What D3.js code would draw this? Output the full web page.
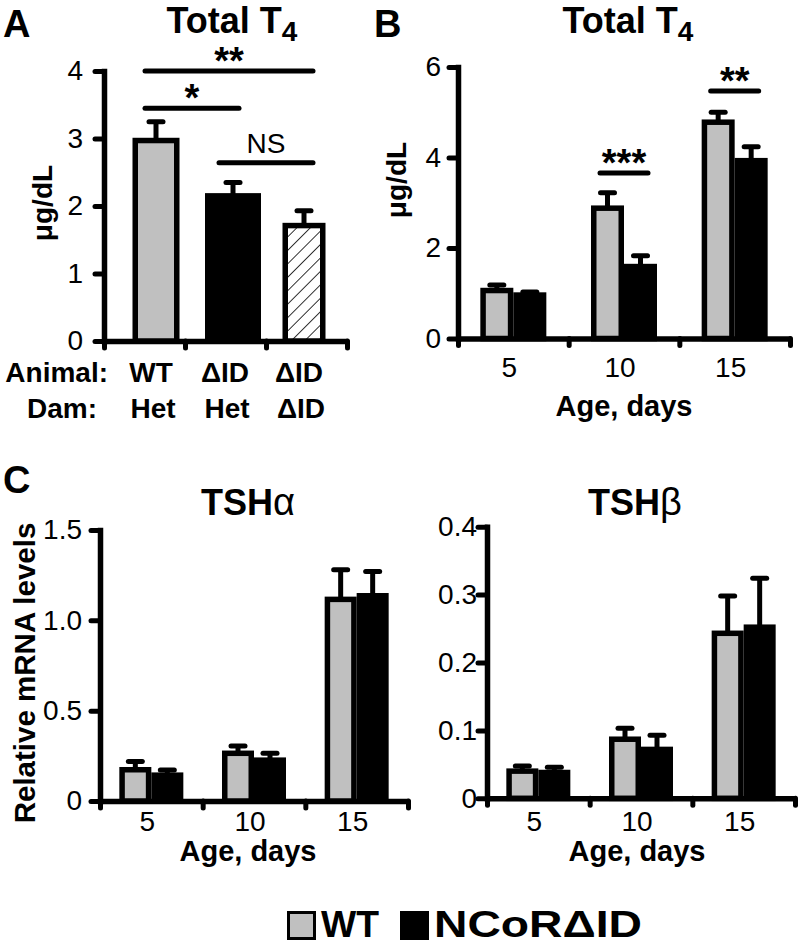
<!DOCTYPE html>
<html><head><meta charset="utf-8">
<script src="https://cdn.jsdelivr.net/npm/d3@7"></script>
<style>body{margin:0;background:#fff} text{font-family:"Liberation Sans",Arial,Helvetica,sans-serif;fill:#000}</style>
</head><body><svg id="c" width="800" height="944"></svg>
<script>
// ---------- data ----------
const groupsA = ["WT/Het", "ΔID/Het", "ΔID/ΔID"];
const animalLabels = ["WT", "ΔID", "ΔID"];
const damLabels = ["Het", "Het", "ΔID"];
const t4A = [2.97, 2.15, 1.71];
const t4AErr = [0.28, 0.20, 0.22];
const ticksA = [0, 1, 2, 3, 4];
const tickLabelsA = ["0", "1", "2", "3", "4"];

const ages = ["5", "10", "15"];
const t4B_WT = [1.06, 2.88, 4.78];
const t4B_WTerr = [0.12, 0.34, 0.22];
const t4B_KO = [0.96, 1.59, 3.93];
const t4B_KOerr = [0.07, 0.24, 0.31];
const ticksB = [0, 2, 4, 6];
const tickLabelsB = ["0", "2", "4", "6"];

const tshA_WT = [0.173, 0.264, 1.116];
const tshA_WTerr = [0.045, 0.040, 0.164];
const tshA_KO = [0.143, 0.226, 1.136];
const tshA_KOerr = [0.029, 0.038, 0.134];
const ticksCa = [0, 0.5, 1.0, 1.5];
const tickLabelsCa = ["0", "0.5", "1.0", "1.5"];

const tshB_WT = [0.040, 0.087, 0.243];
const tshB_WTerr = [0.0076, 0.016, 0.055];
const tshB_KO = [0.038, 0.072, 0.252];
const tshB_KOerr = [0.0077, 0.021, 0.072];
const ticksCb = [0, 0.1, 0.2, 0.3, 0.4];
const tickLabelsCb = ["0", "0.1", "0.2", "0.3", "0.4"];

const sigA = [
  {from: 0, to: 2, level: 4.0, label: "**"},
  {from: 0, to: 1, level: 3.45, label: "*"},
  {from: 1, to: 2, level: 2.64, label: "NS"}
];
const sigB = [
  {group: "10", level: 3.66, label: "***"},
  {group: "15", level: 5.47, label: "**"}
];
const legendItems = ["WT", "NCoRΔID"];

// ---------- helpers ----------
const svg = d3.select("#c");
const SW = 5.5, GRAY = "#c0c0c0", TICKFS = 28;

const defs = svg.append("defs");
const pat = defs.append("pattern").attr("id", "hatch").attr("patternUnits", "userSpaceOnUse")
  .attr("width", 9.5).attr("height", 9.5).attr("patternTransform", "rotate(45)");
pat.append("rect").attr("width", 9.5).attr("height", 9.5).attr("fill", "#fff");
pat.append("line").attr("x1", 0).attr("y1", 0).attr("x2", 0).attr("y2", 9.5)
  .attr("stroke", "#000").attr("stroke-width", 1.6);

function T(x, y, s, o = {}) {
  const t = svg.append("text").attr("x", x).attr("y", y).text(s)
    .attr("font-size", o.size || 26)
    .attr("font-weight", o.bold ? "bold" : "normal")
    .attr("text-anchor", o.anchor || "middle");
  if (o.rot) t.attr("transform", `rotate(-90,${x},${y})`);
  return t;
}

function yAxis(y, x0, ticks, labels, pad) {
  const ax = d3.axisLeft(y).tickValues(ticks).tickFormat((d, i) => labels[i])
    .tickSize(9).tickSizeOuter(0).tickPadding(pad);
  const g = svg.append("g").attr("transform", `translate(${x0},0)`).call(ax);
  g.select(".domain").attr("stroke", "#000").attr("stroke-width", SW).attr("stroke-linecap", "square");
  g.selectAll(".tick line").attr("stroke", "#000").attr("stroke-width", 5).attr("stroke-linecap", "round");
  g.selectAll(".tick text").attr("font-size", TICKFS).attr("font-family", null).attr("fill", "#000");
  return g;
}

function xAxis(x0, x1, yPos, n) {
  const xt = d3.scaleLinear().domain([0, n]).range([x0, x1]);
  const ax = d3.axisBottom(xt).tickValues(d3.range(n + 1)).tickFormat("").tickSize(7).tickSizeOuter(0);
  const g = svg.append("g").attr("transform", `translate(0,${yPos})`).call(ax);
  g.select(".domain").attr("stroke", "#000").attr("stroke-width", SW);
  g.selectAll(".tick line").attr("stroke", "#000").attr("stroke-width", 5).attr("stroke-linecap", "round");
  return g;
}

function bar(xl, w, y, v, fill) {
  svg.append("rect").attr("x", xl + SW / 2).attr("width", w - SW)
    .attr("y", y(v)).attr("height", y(0) - y(v))
    .attr("fill", fill).attr("stroke", "#000").attr("stroke-width", SW);
}
function errbar(xc, y, v, e) {
  svg.append("line").attr("x1", xc).attr("x2", xc).attr("y1", y(v)).attr("y2", y(v + e))
    .attr("stroke", "#000").attr("stroke-width", 5);
  svg.append("line").attr("x1", xc - 7).attr("x2", xc + 7).attr("y1", y(v + e)).attr("y2", y(v + e))
    .attr("stroke", "#000").attr("stroke-width", 5).attr("stroke-linecap", "round");
}
function sigLine(x1, x2, yy) {
  svg.append("line").attr("x1", x1).attr("x2", x2).attr("y1", yy).attr("y2", yy)
    .attr("stroke", "#000").attr("stroke-width", 5).attr("stroke-linecap", "round");
}
function title(x, y, main, sub, subBold) {
  const t = T(x, y, main, {size: 36, bold: true});
  if (sub) {
    if (subBold) t.append("tspan").attr("font-size", 28).attr("dy", 8).text(sub);
    else t.append("tspan").attr("font-weight", "normal").attr("font-size", 38).text(sub);
  }
}

// ---------- Panel A ----------
const yA = d3.scaleLinear().domain([0, 4]).range([341, 71]);
const xA = d3.scalePoint().domain(groupsA).range([156, 304]);
const wA = [47, 56, 43];
xAxis(104, 347, yA(0), 3);
yAxis(yA, 104, ticksA, tickLabelsA, 12);
groupsA.forEach((g, i) => {
  const fill = i === 0 ? GRAY : (i === 1 ? "#000" : "url(#hatch)");
  const cx = xA(g) + (i === 1 ? 3 : 0);
  bar(cx - wA[i] / 2, wA[i], yA, t4A[i], fill);
  errbar(cx, yA, t4A[i], t4AErr[i]);
});
sigA.forEach(s => {
  const x1 = xA(groupsA[s.from]) - 11, x2 = xA(groupsA[s.to]) + 9;
  sigLine(x1, x2, yA(s.level));
  if (s.label === "NS") T((x1 + x2) / 2, yA(s.level) - 10, s.label, {size: 28});
  else T((x1 + x2) / 2, yA(s.level) + 3, s.label, {size: 38, bold: true});
});
T(3, 37, "A", {size: 38, bold: true, anchor: "start"});
title(232, 33, "Total T", "4", true);
T(52, 203, "μg/dL", {size: 28, bold: true, rot: true});
T(108, 382, "Animal:", {size: 28, bold: true, anchor: "end"});
T(97, 418, "Dam:", {size: 28, bold: true, anchor: "end"});
groupsA.forEach((g, i) => {
  T(xA(g) - 5, 382, animalLabels[i], {size: 28, bold: true});
  T(xA(g) - 3, 418, damLabels[i], {size: 28, bold: true});
});

// ---------- grouped panels ----------
function grouped(cfg) {
  const y = d3.scaleLinear().domain([0, cfg.max]).range([cfg.y0, cfg.y1]);
  const x = d3.scaleBand().domain(ages).range([cfg.x0, cfg.x1]);
  xAxis(cfg.x0, cfg.x1, y(0), ages.length);
  yAxis(y, cfg.x0, cfg.ticks, cfg.labels, cfg.pad);
  ages.forEach((a, i) => {
    const c = x(a) + x.bandwidth() / 2;
    bar(c - cfg.bw, cfg.bw, y, cfg.wt[i], GRAY);
    bar(c, cfg.bw, y, cfg.ko[i], "#000");
    errbar(c - cfg.bw / 2, y, cfg.wt[i], cfg.wtErr[i]);
    errbar(c + cfg.bw / 2, y, cfg.ko[i], cfg.koErr[i]);
    T(c - 4, cfg.tickY, a, {size: TICKFS});
  });
  T(cfg.labelX, cfg.labelY, "Age, days", {size: 29, bold: true});
  return {x, y};
}

const B = grouped({max: 6, y0: 338.5, y1: 67, x0: 458, x1: 790, ticks: ticksB, labels: tickLabelsB, pad: 8,
  bw: 33, wt: t4B_WT, wtErr: t4B_WTerr, ko: t4B_KO, koErr: t4B_KOerr, tickY: 377, labelX: 624, labelY: 416});
sigB.forEach(s => {
  const c = B.x(s.group) + B.x.bandwidth() / 2;
  sigLine(c - 24, c + 24, B.y(s.level));
  T(c, B.y(s.level) + 3, s.label, {size: 38, bold: true});
});
T(374, 37, "B", {size: 38, bold: true, anchor: "start"});
title(628, 33, "Total T", "4", true);
T(406, 180, "μg/dL", {size: 28, bold: true, rot: true});

grouped({max: 1.5, y0: 801, y1: 530, x0: 100, x1: 408, ticks: ticksCa, labels: tickLabelsCa, pad: 9,
  bw: 32, wt: tshA_WT, wtErr: tshA_WTerr, ko: tshA_KO, koErr: tshA_KOerr, tickY: 831, labelX: 248, labelY: 861});
grouped({max: 0.4, y0: 798.3, y1: 526.7, x0: 487, x1: 795, ticks: ticksCb, labels: tickLabelsCb, pad: 1,
  bw: 32, wt: tshB_WT, wtErr: tshB_WTerr, ko: tshB_KO, koErr: tshB_KOerr, tickY: 831, labelX: 637, labelY: 861});
T(3, 493, "C", {size: 38, bold: true, anchor: "start"});
title(248, 515, "TSH", "α", false);
title(635, 515, "TSH", "β", false);
T(35, 673, "Relative mRNA levels", {size: 29.5, bold: true, rot: true});

// ---------- legend ----------
const lg = [{x: 287, fill: GRAY, len: 58}, {x: 400, fill: "#000", len: 208}];
legendItems.forEach((s, i) => {
  svg.append("rect").attr("x", lg[i].x + 1.5).attr("y", 912.5).attr("width", 26).attr("height", 26)
    .attr("fill", lg[i].fill).attr("stroke", "#000").attr("stroke-width", 3);
  T(lg[i].x + 34, 937, s, {size: 37, bold: true, anchor: "start"})
    .attr("textLength", lg[i].len).attr("lengthAdjust", "spacingAndGlyphs");
});
</script></body></html>
